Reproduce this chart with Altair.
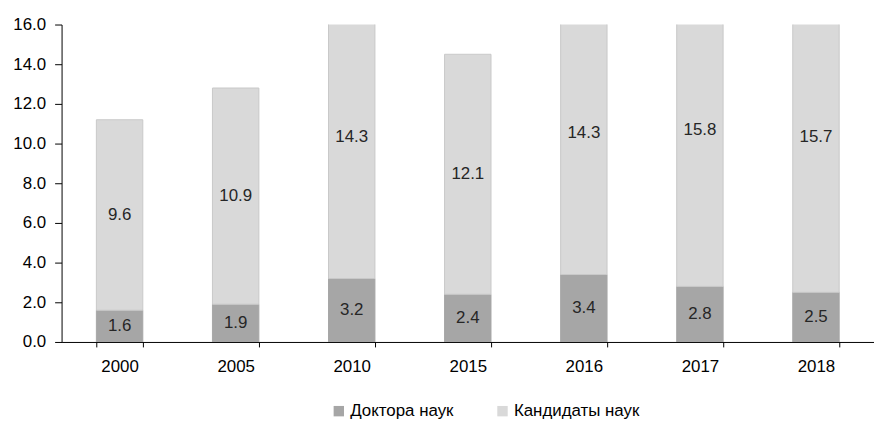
import altair as alt
import pandas as pd

years = ["2000", "2005", "2010", "2015", "2016", "2017", "2018"]
doctors = [1.6, 1.9, 3.2, 2.4, 3.4, 2.8, 2.5]
candidates = [9.6, 10.9, 14.3, 12.1, 14.3, 15.8, 15.7]
series = ["Доктора наук", "Кандидаты наук"]
colors = ["#a6a6a6", "#d9d9d9"]
y_ticks = [0, 2, 4, 6, 8, 10, 12, 14, 16]

rows = []
for i, y in enumerate(years):
    rows.append({"year": y, "series": series[0], "value": doctors[i], "ord": 0})
    rows.append({"year": y, "series": series[1], "value": candidates[i], "ord": 1})
df = pd.DataFrame(rows)

FONT = "Liberation Sans"
FS = 17

base = alt.Chart(df).transform_stack(
    stack="value", groupby=["year"], as_=["y0", "y1"], sort=[{"field": "ord", "order": "ascending"}]
).transform_calculate(mid="(datum.y0 + datum.y1) / 2")

x_axis = alt.Axis(labelAngle=0, tickBand="extent", domainColor="#000000",
                  tickColor="#000000", tickSize=5, labelFontSize=FS,
                  labelFont=FONT, labelColor="#000000", labelPadding=12,
                  grid=False)
y_axis = alt.Axis(values=y_ticks, format=".1f",
                  domainColor="#000000", tickColor="#000000", tickSize=7,
                  labelFontSize=FS, labelFont=FONT, labelColor="#000000",
                  labelPadding=9, grid=False, labelOverlap=False)
xscale = alt.Scale(paddingInner=0.6, paddingOuter=0.3)
yscale = alt.Scale(domain=[0, 16], nice=False)

bars = base.mark_bar(clip=True, strokeWidth=1).encode(
    x=alt.X("year:N", sort=years, title=None, scale=xscale, axis=x_axis),
    y=alt.Y("y0:Q", scale=yscale, title=None, axis=y_axis),
    y2="y1:Q",
    color=alt.Color("series:N", sort=series,
                    scale=alt.Scale(domain=series, range=colors),
                    legend=alt.Legend(title=None, orient="none", direction="horizontal",
                                      legendX=271, legendY=381, symbolType="square",
                                      symbolSize=110, symbolStrokeWidth=0,
                                      labelFont=FONT, labelFontSize=FS, labelColor="#000000",
                                      labelOffset=3, columnPadding=40)),
    stroke=alt.Color("series:N", sort=series,
                     scale=alt.Scale(domain=series, range=["#a6a6a6", "#c8c8c8"]),
                     legend=None),
    order=alt.Order("ord:Q"),
)

labels = base.mark_text(font=FONT, fontSize=FS, color="#262626", baseline="middle").encode(
    x=alt.X("year:N", sort=years, title=None, scale=xscale, axis=x_axis),
    y=alt.Y("mid:Q", scale=yscale, title=None, axis=y_axis),
    text=alt.Text("value:Q", format=".1f"),
)

chart = alt.layer(bars, labels).properties(
    width=819, height=320,
    autosize=alt.AutoSizeParams(type="none"),
    padding={"left": 54, "top": 15, "right": 0, "bottom": 77},
).configure_view(stroke=None)

chart.save("out.html", embed_options={"renderer": "svg", "actions": False})
